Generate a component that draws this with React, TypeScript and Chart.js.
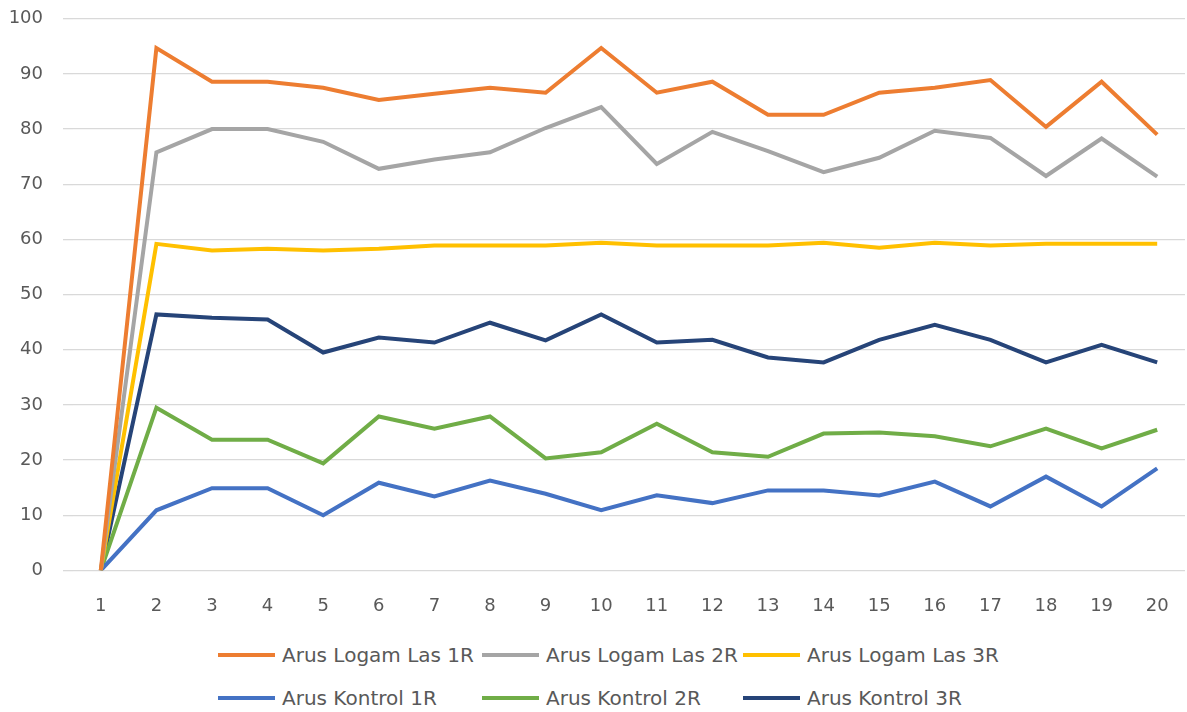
import React, { useEffect, useRef } from "react";
import { Chart, registerables } from "chart.js";

Chart.register(...registerables);

const categories = ["1","2","3","4","5","6","7","8","9","10","11","12","13","14","15","16","17","18","19","20"];

const logam1R = [0, 94.7, 88.6, 88.6, 87.5, 85.3, 86.4, 87.5, 86.6, 94.7, 86.6, 88.6, 82.6, 82.6, 86.6, 87.5, 88.9, 80.4, 88.6, 79.0];
const logam2R = [0, 75.8, 80.0, 80.0, 77.7, 72.8, 74.5, 75.8, 80.2, 84.0, 73.7, 79.5, 76.0, 72.2, 74.8, 79.7, 78.4, 71.5, 78.3, 71.4];
const logam3R = [0, 59.2, 58.0, 58.3, 58.0, 58.3, 58.9, 58.9, 58.9, 59.4, 58.9, 58.9, 58.9, 59.4, 58.5, 59.4, 58.9, 59.2, 59.2, 59.2];
const kontrol1R = [0, 10.9, 14.9, 14.9, 10.0, 15.9, 13.4, 16.3, 13.9, 10.9, 13.6, 12.2, 14.5, 14.5, 13.6, 16.1, 11.6, 17.0, 11.6, 18.5];
const kontrol2R = [0, 29.5, 23.7, 23.7, 19.4, 27.9, 25.7, 27.9, 20.3, 21.4, 26.6, 21.4, 20.6, 24.8, 25.0, 24.3, 22.5, 25.7, 22.1, 25.5];
const kontrol3R = [0, 46.4, 45.8, 45.5, 39.5, 42.2, 41.3, 44.9, 41.7, 46.4, 41.3, 41.8, 38.6, 37.7, 41.8, 44.5, 41.8, 37.7, 40.9, 37.7];

const seriesNames = ["Arus Logam Las 1R", "Arus Logam Las 2R", "Arus Logam Las 3R", "Arus Kontrol 1R", "Arus Kontrol 2R", "Arus Kontrol 3R"];
const seriesColors = ["#ED7D31", "#A5A5A5", "#FFC000", "#4472C4", "#70AD47", "#264478"];
const seriesData = [logam1R, logam2R, logam3R, kontrol1R, kontrol2R, kontrol3R];
const yTicks = [0, 10, 20, 30, 40, 50, 60, 70, 80, 90, 100];

const FONT = "'DejaVu Sans', sans-serif";
const TEXT = "#595959";

export default function App() {
  const ref = useRef<HTMLCanvasElement | null>(null);

  useEffect(() => {
    if (!ref.current) return;
    const chart = new Chart(ref.current, {
      type: "line",
      data: {
        labels: categories,
        datasets: seriesData.map((d, i) => ({
          label: seriesNames[i],
          data: d,
          borderColor: seriesColors[i],
          backgroundColor: seriesColors[i],
          borderWidth: 4,
          pointRadius: 0,
          tension: 0,
          fill: false,
        })),
      },
      options: {
        responsive: false,
        animation: false,
        layout: { padding: { top: 0, right: 2, left: 0, bottom: 0 } },
        plugins: {
          legend: { display: false },
          tooltip: { enabled: false },
          title: { display: false },
        },
        scales: {
          x: {
            offset: true,
            grid: { display: false, drawTicks: true, tickLength: 23 },
            border: { display: false },
            ticks: { color: TEXT, font: { family: FONT, size: 18 }, padding: 2, maxRotation: 0 },
          },
          y: {
            min: 0,
            max: 100,
            afterBuildTicks: (s: any) => {
              s.ticks = yTicks.map((v) => ({ value: v }));
            },
            afterFit: (s: any) => {
              s.width = 73;
            },
            grid: { color: "#D9D9D9", lineWidth: 1.3, tickLength: 10, drawTicks: true },
            border: { display: false },
            ticks: { color: TEXT, font: { family: FONT, size: 18 }, padding: 20 },
          },
        },
      },
    });
    return () => chart.destroy();
  }, []);

  const colLefts = [218, 482, 743];
  const rowTops = [655, 698];

  return (
    <div style={{ position: "absolute", left: 0, top: 0, width: 1187, height: 712, background: "#fff", overflow: "hidden" }}>
      <canvas ref={ref} width={1187} height={631} style={{ position: "absolute", left: 0, top: -12, width: 1187, height: 631 }} />
      {seriesNames.map((name, i) => {
        const row = Math.floor(i / 3);
        const col = i % 3;
        return (
          <div
            key={name}
            style={{
              position: "absolute",
              left: colLefts[col],
              top: rowTops[row] - 13,
              height: 26,
              display: "flex",
              alignItems: "center",
              whiteSpace: "nowrap",
              fontFamily: FONT,
              fontSize: 20,
              color: TEXT,
            }}
          >
            <span style={{ display: "inline-block", width: 57, height: 3.5, background: seriesColors[i], marginRight: 7 }} />
            <span>{name}</span>
          </div>
        );
      })}
    </div>
  );
}
